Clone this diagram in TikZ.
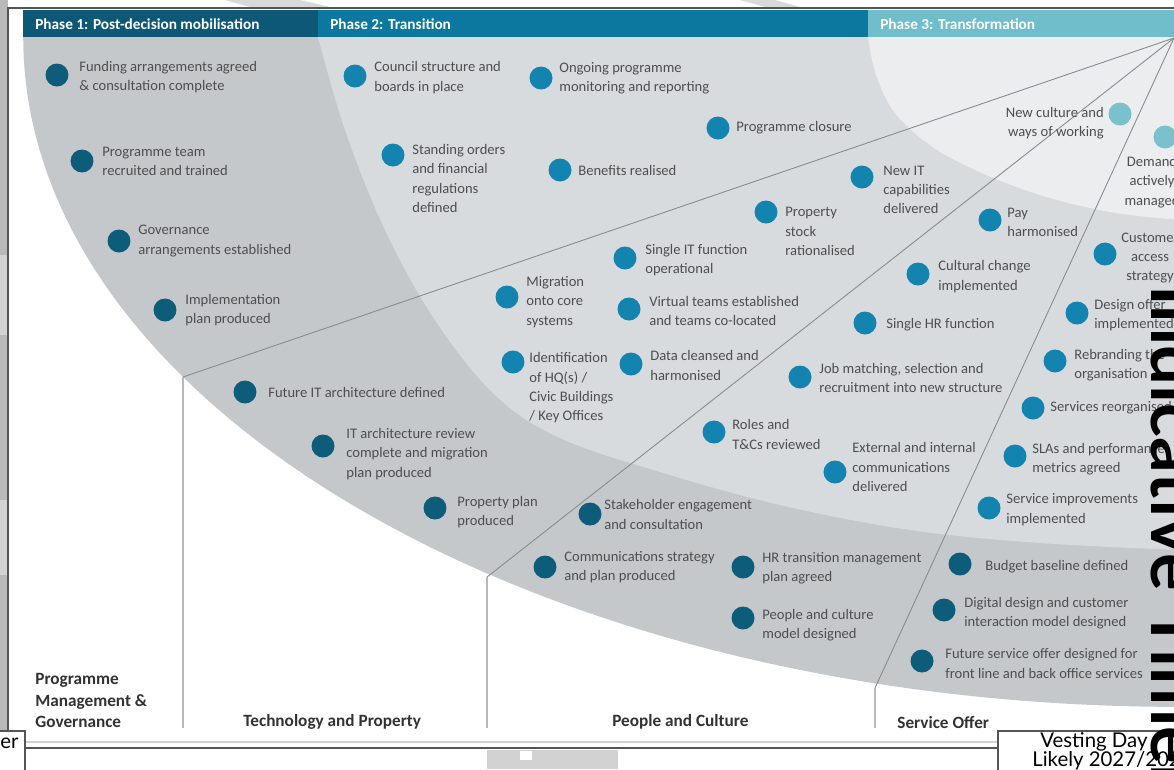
\documentclass[tikz,border=0pt]{standalone}
\usepackage{fontspec}
\setmainfont{Carlito}
\newfontfamily\latofont{Lato}
\definecolor{phaseA}{RGB}{13,88,118}
\definecolor{phaseB}{RGB}{12,120,160}
\definecolor{phaseC}{RGB}{112,189,204}
\definecolor{bandA}{RGB}{197,200,203}
\definecolor{bandB}{RGB}{216,219,222}
\definecolor{bandC}{RGB}{235,237,238}
\definecolor{dotA}{RGB}{13,92,122}
\definecolor{dotB}{RGB}{19,131,175}
\definecolor{dotC}{RGB}{122,192,205}
\definecolor{txt}{RGB}{78,78,78}
\definecolor{ttl}{RGB}{50,50,50}
\definecolor{rayc}{RGB}{135,139,143}
\definecolor{divc}{RGB}{185,185,185}
\definecolor{frame}{RGB}{85,85,85}
\tikzset{
  dot/.style={circle, inner sep=0pt, minimum size=0.46cm},
  dk/.style={dot, fill=dotA},
  bl/.style={dot, fill=dotB},
  lt/.style={dot, fill=dotC},
  lbl/.style={anchor=west, align=left, inner sep=0pt, text=txt, font=\fontsize{8.3}{11}\selectfont},
  lblc/.style={lbl, anchor=center, align=center},
  lblr/.style={lbl, anchor=east, align=right},
  head/.style={anchor=west, inner sep=0pt, text=white, font=\bfseries\fontsize{8.7}{10}\selectfont},
  foot/.style={anchor=west, align=left, inner sep=0pt, text=ttl, font=\bfseries\fontsize{9.8}{12.2}\selectfont},
  ray/.style={draw=rayc, line width=0.5pt},
  divider/.style={draw=divc, line width=0.6pt},
  boxtxt/.style={anchor=west, inner sep=0pt, text=black, font=\latofont\fontsize{11.6}{12}\selectfont}
}
\begin{document}
\begin{tikzpicture}[x=0.02cm,y=-0.02cm]
\useasboundingbox (0,0) rectangle (1174,769);
\clip (0,0) rectangle (1174,769);
% screenshot surroundings
\fill[white] (0,0) rectangle (1174,769);
\fill[gray!55] (0,0) rectangle (8,769);
\fill[gray!35] (0,255) rectangle (8,335);
\fill[gray!35] (0,500) rectangle (8,575);
\fill[gray!30] (225,0) -- (300,0) -- (330,7) -- (250,7) -- cycle;
\fill[gray!30] (740,0) -- (775,0) -- (800,7) -- (765,7) -- cycle;
\fill[gray!35] (487,750) rectangle (618,769);
\fill[white] (520,751) rectangle (532,760);
% panel
\fill[white] (8,8) rectangle (1174,749);
\draw[frame, line width=1.1pt] (8,749) -- (8,8) -- (1174,8);
\draw[frame, line width=1.3pt] (8,748) -- (1174,748);
\draw[gray!35, line width=0.6pt] (23,742) -- (1174,742);
% bands
\begin{scope}
\clip (23,37) rectangle (1174,741);
\fill[bandA] (1180,37) ellipse [x radius=23.14cm, y radius=13.4cm];
\fill[bandB] plot[smooth, tension=0.6] coordinates {(318,37) (345,130) (385,230) (435,320) (495,395) (560,438) (660,472) (780,505) (910,530) (1040,543) (1180,550)} -- (1180,37) -- cycle;
\fill[bandC] plot[smooth, tension=0.6] coordinates {(868,37) (876,75) (895,113) (930,145) (975,170) (1040,195) (1110,212) (1180,220)} -- (1180,37) -- cycle;
\end{scope}
% header
\fill[phaseA] (23,10) rectangle (318,37);
\fill[phaseB] (318,10) rectangle (868,37);
\fill[phaseC] (868,10) rectangle (1174,37);
\node[head] (h1) at (35,24) {Phase 1: Post-decision mobilisation};
\node[head] (h2) at (330,24) {Phase 2: Transition};
\node[head] (h3) at (880,24) {Phase 3: Transformation};
% rays and dividers
\coordinate (apex) at (1174,38);
\coordinate (dA) at (183,377);
\coordinate (dB) at (487,577);
\coordinate (dC) at (875,688);
\coordinate (eA) at (183,728);
\coordinate (eB) at (487,728);
\coordinate (eC) at (875,728);
\draw[ray] (apex) -- (dA);
\draw[ray] (apex) -- (dB);
\draw[ray] (apex) -- (dC);
\draw[divider] (dA) -- (eA);
\draw[divider] (dB) -- (eB);
\draw[divider] (dC) -- (eC);
% milestones
\node[dk] (c1) at (57,75) {};
\node[lbl] (t1) at (79,77) {Funding arrangements agreed\\\& consultation complete};
\node[dk] (c2) at (82,161) {};
\node[lbl] (t2) at (102,161.5) {Programme team\\recruited and trained};
\node[dk] (c3) at (119,241) {};
\node[lbl] (t3) at (138,241) {Governance\\arrangements established};
\node[dk] (c4) at (165,310) {};
\node[lbl] (t4) at (185,310) {Implementation\\plan produced};
\node[bl] (c5) at (355,76) {};
\node[lbl] (t5) at (374,77.5) {Council structure and\\boards in place};
\node[bl] (c6) at (541,78) {};
\node[lbl] (t6) at (559,78.5) {Ongoing programme\\monitoring and reporting};
\node[bl] (c7) at (718,128) {};
\node[lbl] (t7) at (736,128) {Programme closure};
\node[bl] (c8) at (393,155) {};
\node[lbl] (t8) at (412,178.5) {Standing orders\\and financial\\regulations\\defined};
\node[bl] (c9) at (560,170) {};
\node[lbl] (t9) at (578,170) {Benefits realised};
\node[bl] (c10) at (862,177) {};
\node[lbl] (t10) at (883,190) {New IT\\capabilities\\delivered};
\node[bl] (c11) at (766,212) {};
\node[lbl] (t11) at (785,231.5) {Property\\stock\\rationalised};
\node[bl] (c12) at (625,258) {};
\node[lbl] (t12) at (645,260) {Single IT function\\operational};
\node[bl] (c13) at (990,220) {};
\node[lbl] (t13) at (1007,222.5) {Pay\\harmonised};
\node[bl] (c14) at (918,274) {};
\node[lbl] (t14) at (938,276.5) {Cultural change\\implemented};
\node[bl] (c15) at (507,297) {};
\node[lbl] (t15) at (526,302) {Migration\\onto core\\systems};
\node[bl] (c16) at (629,309) {};
\node[lbl] (t16) at (649,311) {Virtual teams established\\and teams co-located};
\node[bl] (c17) at (865,323) {};
\node[lbl] (t17) at (886,325) {Single HR function};
\node[bl] (c18) at (513,362) {};
\node[lbl] (t18) at (529,388) {Identification\\of HQ(s) /\\Civic Buildings\\/ Key Offices};
\node[bl] (c19) at (631,364) {};
\node[lbl] (t19) at (650,365.5) {Data cleansed and\\harmonised};
\node[bl] (c20) at (800,377) {};
\node[lbl] (t20) at (819,378) {Job matching, selection and\\recruitment into new structure};
\node[bl] (c21) at (714,432) {};
\node[lbl] (t21) at (732,434.5) {Roles and\\T\&Cs reviewed};
\node[bl] (c22) at (835,472) {};
\node[lbl] (t22) at (852,467) {External and internal\\communications\\delivered};
\node[bl] (c23) at (1105,254) {};
\node[lblc] (t23) at (1150,258) {Customer\\access\\strategy};
\node[bl] (c24) at (1077,313) {};
\node[lbl] (t24) at (1094,315) {Design offer\\implemented};
\node[bl] (c25) at (1055,361) {};
\node[lbl] (t25) at (1074,365.5) {Rebranding the\\organisation};
\node[bl] (c26) at (1033,408) {};
\node[lbl] (t26) at (1050,408) {Services reorganised};
\node[bl] (c27) at (1015,456) {};
\node[lbl] (t27) at (1032,459) {SLAs and performance\\metrics agreed};
\node[bl] (c28) at (989,508) {};
\node[lbl] (t28) at (1006,509.5) {Service improvements\\implemented};
\node[lt] (c29) at (1120,114) {};
\node[lblr] (t29) at (1104,123) {New culture and\\ways of working};
\node[lt] (c30) at (1165,137) {};
\node[lblc] (t30) at (1152,182) {Demand\\actively\\managed};
\node[dk] (c31) at (245,392) {};
\node[lbl] (t31) at (268,392) {Future IT architecture defined};
\node[dk] (c32) at (323,446) {};
\node[lbl] (t32) at (346,454) {IT architecture review\\complete and migration\\plan produced};
\node[dk] (c33) at (435,508) {};
\node[lbl] (t33) at (457,512) {Property plan\\produced};
\node[dk] (c34) at (590,514) {};
\node[lbl] (t34) at (604,514.5) {Stakeholder engagement\\and consultation};
\node[dk] (c35) at (545,567) {};
\node[lbl] (t35) at (564,567) {Communications strategy\\and plan produced};
\node[dk] (c36) at (743,567) {};
\node[lbl] (t36) at (762,568) {HR transition management\\plan agreed};
\node[dk] (c37) at (743,618) {};
\node[lbl] (t37) at (762,625) {People and culture\\model designed};
\node[dk] (c38) at (960,564) {};
\node[lbl] (t38) at (985,567) {Budget baseline defined};
\node[dk] (c39) at (944,610) {};
\node[lbl] (t39) at (964,613.5) {Digital design and customer\\interaction model designed};
\node[dk] (c40) at (922,661) {};
\node[lbl] (t40) at (945,663.5) {Future service offer designed for\\front line and back office services};
% workstream titles
\node[foot] (f1) at (35,700.5) {Programme\\Management \&\\Governance};
\node[foot] (f2) at (243,722) {Technology and Property};
\node[foot] (f3) at (612,722) {People and Culture};
\node[foot] (f4) at (897,722) {Service Offer};
% overlay boxes
\draw[fill=white, draw=frame, line width=0.8pt] (-5,731) rectangle (25,780);
\node[boxtxt, anchor=east] (er) at (19,743) {er};
\draw[fill=white, draw=frame, line width=0.8pt] (998,731) rectangle (1185,780);
\node[boxtxt] (vd1) at (1040,742) {Vesting Day};
\node[boxtxt] (vd2) at (1032,761) {Likely 2027/2028};
\node[rotate=-90, anchor=base west, inner sep=0pt, font=\latofont\bfseries\fontsize{40}{40}\selectfont] (big) at (1151,285) {Indicative Timeline};
\end{tikzpicture}
\end{document}
